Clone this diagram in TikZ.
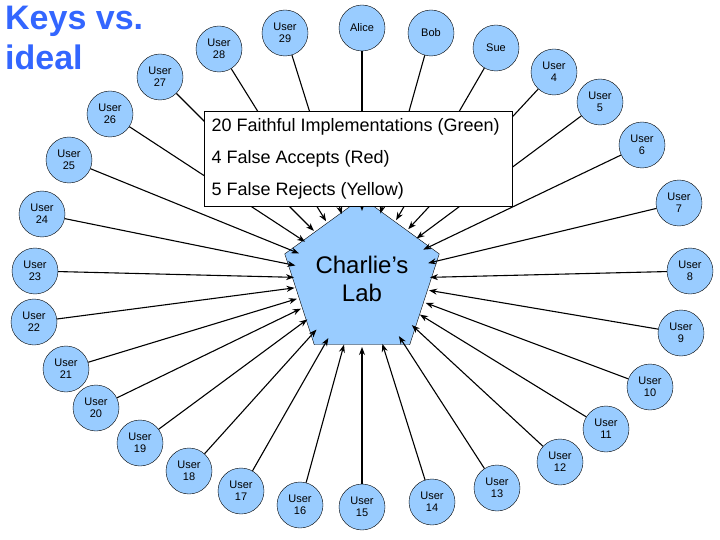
\documentclass[tikz,border=0pt]{standalone}
\usepackage{fontspec}
\setmainfont{Liberation Sans}
\usetikzlibrary{shapes.geometric,calc,arrows.meta}
\definecolor{ublue}{RGB}{153,204,255}
\definecolor{tblue}{RGB}{51,102,255}
\begin{document}
\begin{tikzpicture}[x=1pt,y=-1pt,
  user/.style={circle,draw=black,fill=ublue,minimum size=46pt,inner sep=0pt,align=center,font=\fontsize{11}{12}\selectfont},
  arr/.style={line width=1.1pt,-{Stealth[length=8pt,width=6pt]}}]
\useasboundingbox (0,0) rectangle (720,540);
\node[regular polygon,regular polygon sides=5,minimum size=112pt,inner sep=0pt,draw=black,fill=ublue,align=center,font=\fontsize{24}{28}\selectfont] (c) at (362,279) {Charlie’s\\Lab};
\foreach \n/\t/\x/\y in {u29/User\\29/285/33, alice/Alice/362/28, bob/Bob/431/33, sue/Sue/496/48, u4/User\\4/554/72, u5/User\\5/600/102, u6/User\\6/642/145, u7/User\\7/679/203, u8/User\\8/690/271, u9/User\\9/681/333, u10/User\\10/650/387, u11/User\\11/606/429, u12/User\\12/560/462, u13/User\\13/497/488, u14/User\\14/432/502, u15/User\\15/362/507, u16/User\\16/300/505, u17/User\\17/241/491, u18/User\\18/189/471, u19/User\\19/140/443, u20/User\\20/96/408, u21/User\\21/66/369, u22/User\\22/34/322, u23/User\\23/35/271, u24/User\\24/42/214, u25/User\\25/69/160, u26/User\\26/110/114, u27/User\\27/160/77, u28/User\\28/219/49}{
  \node[user] (\n) at (\x,\y) {\t};
  \draw[arr] (\n) -- ($(c.center)!68pt!(\n)$);
}
\node[draw=black,fill=white,minimum width=308pt,minimum height=95pt,anchor=north west] (box) at (204,111) {};
\node[anchor=west,font=\fontsize{18}{21}\selectfont] (l1) at (208,127) {20 Faithful Implementations (Green)};
\node[anchor=west,font=\fontsize{18}{21}\selectfont] (l2) at (208,159) {4 False Accepts (Red)};
\node[anchor=west,font=\fontsize{18}{21}\selectfont] (l3) at (208,191) {5 False Rejects (Yellow)};
\node[anchor=north west,align=left,text=tblue,font=\bfseries\fontsize{34}{40}\selectfont,inner sep=0pt] (title) at (5,6) {Keys vs.\\ideal};
\end{tikzpicture}
\end{document}
